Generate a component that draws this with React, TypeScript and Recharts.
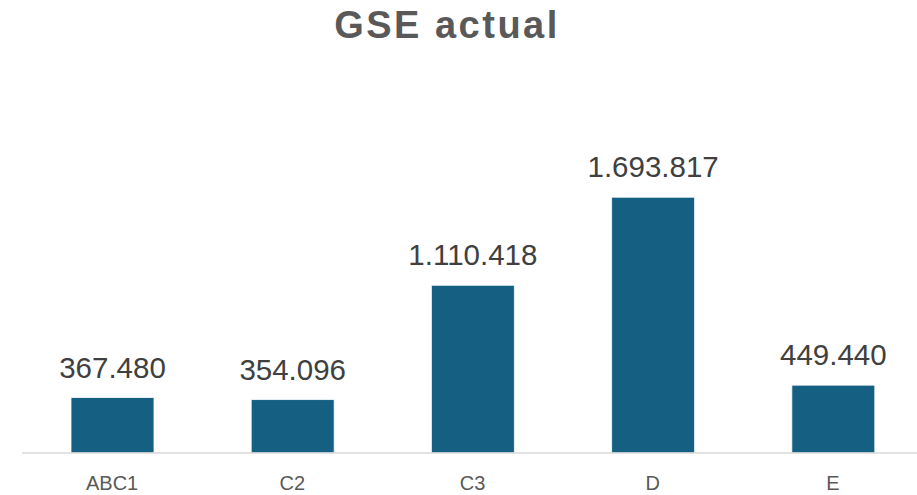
import React from 'react';
import { BarChart, Bar, XAxis, YAxis, LabelList } from 'recharts';

const categories = ['ABC1', 'C2', 'C3', 'D', 'E'];
const values = [367480, 354096, 1110418, 1693817, 449440];

const data = categories.map((name, i) => ({ name, value: values[i] }));

// thousands separated with dots, as in the original sheet
const fmt = (v: number) => v.toString().replace(/\B(?=(\d{3})+(?!\d))/g, '.');

const FONT = '"Liberation Sans", Arial, sans-serif';

const App: React.FC = () => {
  return (
    <div style={{ position: 'absolute', left: 0, top: 0, width: 917, height: 495, overflow: 'hidden', background: '#fff' }}>
      <div
        style={{
          position: 'absolute',
          left: 0,
          top: 6,
          width: 894,
          textAlign: 'center',
          fontFamily: FONT,
          fontWeight: 700,
          fontSize: 38,
          lineHeight: '38px',
          letterSpacing: 2.5,
          color: '#595959',
        }}
      >
        GSE actual
      </div>
      <BarChart
        width={930}
        height={495}
        data={data}
        margin={{ top: 151, right: 7, left: 22, bottom: 0 }}
        barSize={83}
      >
        <XAxis
          dataKey="name"
          height={42}
          axisLine={{ stroke: '#D9D9D9', strokeWidth: 1.5 }}
          tickLine={false}
          tickSize={6}
          tickMargin={17}
          tick={{ fill: '#595959', fontSize: 20, fontFamily: FONT }}
          interval={0}
        />
        <YAxis hide domain={[0, 2000000]} />
        <Bar dataKey="value" fill="#156082" stroke="#ffffff" strokeWidth={0.8} isAnimationActive={false}>
          <LabelList
            dataKey="value"
            position="top"
            offset={20}
            formatter={(v: number) => fmt(v)}
            style={{ fill: '#404040', fontSize: 29.5, fontFamily: FONT }}
          />
        </Bar>
      </BarChart>
    </div>
  );
};

export default App;
